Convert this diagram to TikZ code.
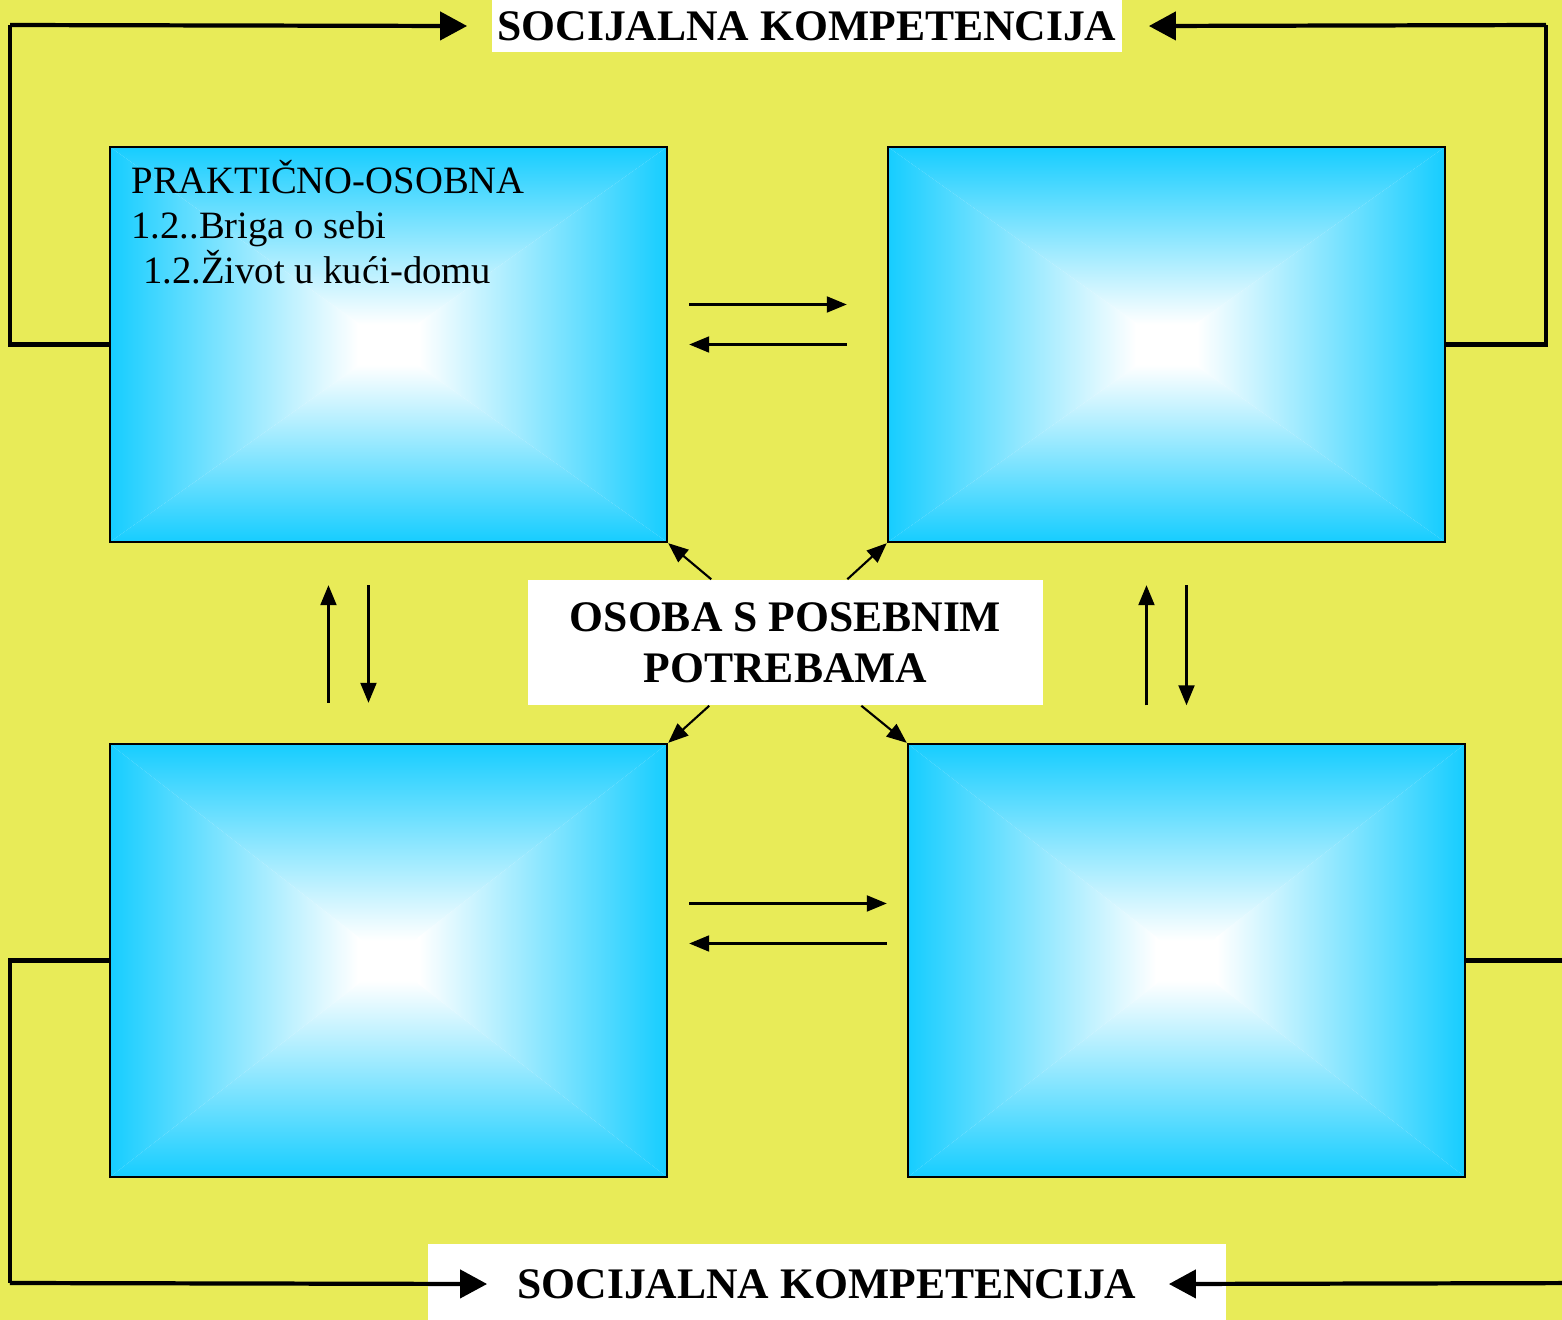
\documentclass[tikz,border=0pt]{standalone}
\usepackage{fontspec}
\setmainfont{Liberation Serif}
\usepackage{tikz}
\usetikzlibrary{positioning, arrows, arrows.meta}

\definecolor{bgyellow}{HTML}{E8EB58}
\definecolor{boxcyan}{HTML}{16CDFF}

\tikzset{
  gradbox/.style={draw=black, line width=0.6pt, minimum width=5.57cm, minimum height=3.95cm, inner sep=0pt,
    path picture={
      \coordinate (pc) at (path picture bounding box.center);
      \fill[white] (path picture bounding box.north west) rectangle (path picture bounding box.south east);
      \begin{scope}
        \clip (path picture bounding box.north west) -- (path picture bounding box.north east) -- (pc) -- cycle;
        \shade[top color=boxcyan, middle color=boxcyan!45!white, bottom color=white] (path picture bounding box.north west) rectangle ([yshift=0.2cm]pc -| path picture bounding box.east);
      \end{scope}
      \begin{scope}
        \clip (path picture bounding box.south west) -- (path picture bounding box.south east) -- (pc) -- cycle;
        \shade[top color=white, middle color=boxcyan!45!white, bottom color=boxcyan] ([yshift=-0.2cm]pc -| path picture bounding box.west) rectangle (path picture bounding box.south east);
      \end{scope}
      \begin{scope}
        \clip (path picture bounding box.north west) -- (path picture bounding box.south west) -- (pc) -- cycle;
        \shade[left color=boxcyan, middle color=boxcyan!45!white, right color=white] (path picture bounding box.north west) rectangle ([xshift=-0.3cm]pc |- path picture bounding box.south);
      \end{scope}
      \begin{scope}
        \clip (path picture bounding box.north east) -- (path picture bounding box.south east) -- (pc) -- cycle;
        \shade[left color=white, middle color=boxcyan!45!white, right color=boxcyan] ([xshift=0.3cm]pc |- path picture bounding box.north) rectangle (path picture bounding box.south east);
      \end{scope}
    }},
  label/.style={fill=white, inner sep=0pt, font=\fontsize{12.4}{14.6}\selectfont\bfseries},
  loopline/.style={line width=1.2pt},
  bigarrow/.style={line width=1.2pt, -{Triangle[length=0.27cm,width=0.28cm]}},
  smallarrow/.style={line width=0.6pt, -{Triangle[length=0.2cm,width=0.16cm]}}
}

\begin{document}
\begin{tikzpicture}[x=0.01cm, y=-0.01cm]
% background
\fill[bgyellow] (0,0) rectangle (1562,1320);
\clip (0,0) rectangle (1562,1320);

% boxes
\node[gradbox] (tl) at (388.5,344.5) {};
\node[gradbox] (tr) at (1166.5,344.5) {};
\node[gradbox, minimum height=4.33cm] (bl) at (388.5,960.5) {};
\node[gradbox, minimum height=4.33cm] (br) at (1186.5,960.5) {};

\node[anchor=north west, inner sep=0pt, align=left, font=\fontsize{11}{12.8}\selectfont]
  (tltext) at ([xshift=0.22cm,yshift=-0.14cm]tl.north west)
  {PRAKTIČNO-OSOBNA\\1.2..Briga o sebi\\\hspace{0.3em}1.2.Život u kući-domu};

% labels
\node[label, minimum width=6.3cm, minimum height=0.52cm] (topkomp) at (807,26) {SOCIJALNA KOMPETENCIJA};
\node[label, minimum width=7.98cm, minimum height=0.8cm] (botkomp) at (827,1284) {SOCIJALNA KOMPETENCIJA};
\node[label, align=center, minimum width=5.15cm, minimum height=1.25cm] (osoba) at (785.5,642.5)
  {OSOBA S POSEBNIM\\POTREBAMA};

% outer loops
\draw[loopline] (tl.west) -| (10,25);
\draw[bigarrow] (10,25) -- ([xshift=-0.24cm]topkomp.west);
\draw[loopline] (tr.east) -| (1546,25);
\draw[bigarrow] (1546,25) -- ([xshift=0.26cm]topkomp.east);
\draw[loopline] (bl.west) -| (10,1283);
\draw[bigarrow] (10,1283) -- ([xshift=0.6cm]botkomp.west);
\draw[loopline] (br.east) -| (1600,1283);
\draw[bigarrow] (1600,1283) -- ([xshift=-0.58cm]botkomp.east);

% arrows between boxes
\draw[smallarrow] ([shift={(0.21cm,0.4cm)}]tl.east) -- ([shift={(-0.4cm,0.4cm)}]tr.west);
\draw[smallarrow] ([xshift=-0.4cm]tr.west) -- ([xshift=0.21cm]tl.east);
\draw[smallarrow] ([shift={(0.21cm,0.57cm)}]bl.east) -- ([shift={(-0.2cm,0.57cm)}]br.west);
\draw[smallarrow] ([shift={(-0.2cm,0.17cm)}]br.west) -- ([shift={(0.21cm,0.17cm)}]bl.east);
\draw[smallarrow] ([shift={(-0.6cm,0.4cm)}]bl.north) -- ([shift={(-0.6cm,-0.42cm)}]tl.south);
\draw[smallarrow] ([shift={(-0.2cm,-0.42cm)}]tl.south) -- ([shift={(-0.2cm,0.4cm)}]bl.north);
\draw[smallarrow] ([shift={(-0.2cm,-1.62cm)}]tr.south) -- ([shift={(-0.2cm,-0.42cm)}]tr.south);
\draw[smallarrow] ([shift={(0.2cm,-0.42cm)}]tr.south) -- ([shift={(0.2cm,-1.62cm)}]tr.south);

% arrows from centre
\draw[smallarrow] ([xshift=1.84cm]osoba.north west) -- (tl.south east);
\draw[smallarrow] ([xshift=3.2cm]osoba.north west) -- (tr.south west);
\draw[smallarrow] ([xshift=1.82cm]osoba.south west) -- (bl.north east);
\draw[smallarrow] ([xshift=3.34cm]osoba.south west) -- (br.north west);
\end{tikzpicture}
\end{document}
